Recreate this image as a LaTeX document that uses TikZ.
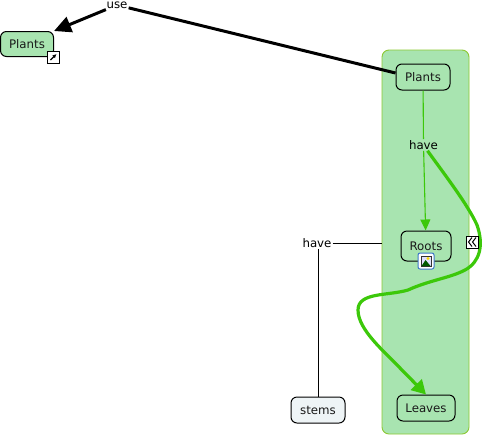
\documentclass[tikz,border=0pt]{standalone}
\usepackage{fontspec}
\setmainfont{DejaVu Sans}
\usepackage{xcolor}
\usetikzlibrary{arrows.meta,calc,positioning}
\definecolor{groupfill}{RGB}{168,228,176}
\definecolor{groupline}{RGB}{140,200,50}
\definecolor{linkgreen}{RGB}{60,200,10}
\definecolor{stemfill}{RGB}{238,244,246}
\definecolor{iconblue}{RGB}{60,120,200}
\tikzset{
  concept/.style={draw=black,line width=1pt,rounded corners=6pt,inner sep=0pt,font=\fontsize{11.8}{13}\selectfont,text=black!90},
  linkword/.style={fill=white,inner sep=1pt,font=\fontsize{11.8}{13}\selectfont,text=black},
  iconbox/.style={draw=black,fill=white,line width=1pt,minimum size=11pt,inner sep=0pt},
  thinlink/.style={draw=black,line width=1pt},
  thicklink/.style={draw=black,line width=3pt},
  greenlink/.style={draw=linkgreen,line width=1.1pt},
}
\begin{document}
\begin{tikzpicture}[x=1pt,y=-1pt]
  \useasboundingbox (0,0) rectangle (486,437);
  % group box
  \node[draw=groupline,fill=groupfill,rounded corners=7pt,line width=0.9pt,minimum width=87pt,minimum height=384pt,inner sep=0pt] (group) at (425.5,242) {};
  % concepts
  \node[concept,fill=groupfill,minimum width=53pt,minimum height=25pt] (plantsA) at (27,44) {Plants};
  \node[concept,fill=groupfill,minimum width=54pt,minimum height=26pt] (plantsB) at (423,77) {Plants};
  \node[concept,fill=groupfill,minimum width=50pt,minimum height=30pt] (roots) at (426,246) {Roots};
  \node[concept,fill=groupfill,minimum width=58pt,minimum height=26pt] (leaves) at (426,408) {Leaves};
  \node[concept,fill=stemfill,minimum width=54pt,minimum height=26pt] (stems) at (318,410) {stems};
  % linking words
  \node[linkword] (use) at (117,5) {use};
  \node[linkword,fill=groupfill] (haveA) at (423.5,145) {have};
  \node[linkword] (haveB) at (317,243) {have};
  % connectors
  \draw[thicklink] (plantsB.west) ++(0,-4) coordinate (plantsOut) (plantsOut) -- (use);
  \draw[thicklink,-{Triangle[length=17pt,width=16pt]}] (use) -- (plantsA.north east);
  \draw[greenlink] (plantsB) -- (haveA);
  \draw[greenlink,-{Triangle[length=11pt,width=10pt]}] (haveA) -- (roots);
  \draw[thinlink] (haveB) -- (group.west |- haveB);
  \draw[thinlink] (haveB.south -| stems.north) -- (stems.north);
  \draw[draw=linkgreen,line width=3.2pt,line join=round,-{Triangle[length=14pt,width=15pt]}] (haveA.south)++(4,0)
    .. controls (445,175) and (468,205) .. (477,225)
    .. controls (484,245) and (480,262) .. (465,270)
    .. controls (450,278) and (430,280) .. (408,290)
    .. controls (388,296) and (358,292) .. (358,310)
    .. controls (358,330) and (385,352) .. (400,368)
    -- (leaves.north);
  % icons
  \node[iconbox,minimum size=12pt] (linkIcon) at (53.5,57) {};
  \draw[black,line width=1.1pt,-{Latex[length=4pt,width=4pt]}] ($(linkIcon)+(-3,3)$) -- ($(linkIcon)+(3,-3)$);
  \node[iconbox,minimum size=12pt] (foldIcon) at (472.5,242) {};
  \draw[black,line width=1pt] ($(foldIcon)+(-0.5,-4.5)$) -- ($(foldIcon)+(-4,0)$) -- ($(foldIcon)+(-0.5,4.5)$)
    ($(foldIcon)+(3.5,-4.5)$) -- ($(foldIcon)+(0,0)$) -- ($(foldIcon)+(3.5,4.5)$);
  \node[draw=iconblue,fill=white,rounded corners=2pt,line width=1pt,minimum size=16pt,inner sep=0pt] (imageIcon) at (426,261) {};
  \fill[black!80] ($(imageIcon)+(-5.5,-5.5)$) rectangle ($(imageIcon)+(5.5,6)$);
  \fill[blue!12] ($(imageIcon)+(-4.5,-4.5)$) rectangle ($(imageIcon)+(4.5,5)$);
  \fill[yellow!80!orange] ($(imageIcon)+(2,-2.5)$) circle (1.6pt);
  \fill[green!35!black] ($(imageIcon)+(-4.5,5)$) -- ($(imageIcon)+(-0.5,-1)$) -- ($(imageIcon)+(4.5,5)$) -- cycle;
\end{tikzpicture}
\end{document}
